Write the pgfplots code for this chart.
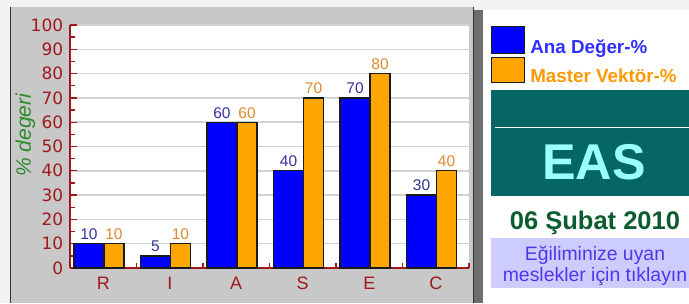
\documentclass[border=0pt]{standalone}
\usepackage{pgfplots}
\pgfplotsset{compat=1.18}
\usepackage{fontspec}
\setmainfont{Liberation Sans}
\newfontfamily\dejavu{DejaVu Sans}
\definecolor{bgtex}{HTML}{F2F2F2}
\definecolor{panelgray}{HTML}{C8C8C8}
\definecolor{shadowgray}{HTML}{6E6E6E}
\definecolor{tealA}{HTML}{066666}
\definecolor{eascyan}{HTML}{99FFFF}
\definecolor{dategreen}{HTML}{0B5D2F}
\definecolor{lav}{HTML}{CCCCFF}
\definecolor{linkpurple}{HTML}{5533EE}
\definecolor{axred}{HTML}{A0181C}
\definecolor{gridgray}{HTML}{D2D2D2}
\definecolor{barblue}{HTML}{0000FF}
\definecolor{barorange}{HTML}{FFA500}
\definecolor{barline}{HTML}{1A1A1A}
\definecolor{lblblue}{HTML}{34349C}
\definecolor{lblorange}{HTML}{DD8A2E}
\definecolor{legblue}{HTML}{3030FF}
\definecolor{legorange}{HTML}{FF9900}
\definecolor{labelgreen}{HTML}{2A8A2A}
\pgfplotsset{
  sqlegendA/.style={legend image code/.code={\path[fill=barblue] (0bp,-6.8bp) rectangle (33bp,20.2bp);}},
  sqlegendB/.style={legend image code/.code={\path[fill=barorange] (0bp,-5.8bp) rectangle (33bp,19.2bp);}},
}
\begin{document}
\begin{tikzpicture}[x=1bp,y=1bp]
\useasboundingbox (0,0) rectangle (689,303);
\fill[bgtex] (0,0) rectangle (689,303);
\fill[panelgray] (10,0) rectangle (474,296);
\draw[black!80, line width=1.3bp] (10.7,0) -- (10.7,296);
\fill[shadowgray] (474.3,0) rectangle (482.7,293);
\draw[black!80, line width=1.2bp] (473.6,0) -- (473.6,296);
\fill[white] (482.7,0) rectangle (689,293);
\fill[tealA] (491,107) rectangle (689,213);
\draw[white, line width=1.5bp] (495,175.5) -- (689,175.5);
\node[text=eascyan, font=\bfseries\fontsize{50.3bp}{55bp}\selectfont, anchor=base, inner sep=0pt] at (594,124) {EAS};
\node[text=dategreen, font=\bfseries\fontsize{25.5bp}{28bp}\selectfont, anchor=base, inner sep=0pt] at (595,74) {06 Şubat 2010};
\fill[lav] (491,15) rectangle (689,65);
\node[text=linkpurple, font=\fontsize{19.4bp}{22bp}\selectfont, anchor=base, inner sep=0pt] at (595,43) {Eğiliminize uyan};
\node[text=linkpurple, font=\fontsize{19.4bp}{22bp}\selectfont, anchor=base, inner sep=0pt] at (595,22) {meslekler için tıklayın};
\begin{axis}[
  at={(70bp,35bp)}, anchor=south west,
  scale only axis, width=399bp, height=243bp,
  xmin=-0.5, xmax=5.5, ymin=0, ymax=100,
  axis lines*=left,
  axis line style={-, draw=axred, line width=1.5bp},
  axis background/.style={fill=white},
  xtick={0,...,5}, xticklabels={R,I,A,S,E,C},
  minor xtick={0.5,1.5,...,5.5},
  ytick={0,10,...,100}, minor ytick={5,15,...,95},
  tick align=inside,
  major tick length=7bp, minor tick length=5bp,
  tick style={draw=axred, line width=1.3bp},
  major x tick style={draw=none},
  ymajorgrids, major grid style={draw=gridgray, line width=1.5bp},
  /pgf/number format/assume math mode=true,
  yticklabel style={font=\dejavu\fontsize{17bp}{20bp}\selectfont, text=axred, xshift=-3.3bp},
  xticklabel style={font=\fontsize{18bp}{20bp}\selectfont, text=axred, yshift=-5.5bp},
  ylabel={\% degeri},
  ylabel style={at={(axis description cs:-0.1115,0.547)}, anchor=center, font=\itshape\fontsize{21bp}{24bp}\selectfont, text=labelgreen},
  clip=false,
  legend style={at={(axis description cs:1.05514,0.99588)}, anchor=north west, draw=none, fill=none, inner sep=0pt, outer sep=0pt, row sep=2.3bp, font=\bfseries\fontsize{18.8bp}{22bp}\selectfont, nodes={inner sep=0pt}, /tikz/every odd column/.append style={column sep=5bp}},
  legend cell align=left,
]
\addplot[ybar, bar width=0.451, bar shift=-0.2143, fill=barblue, draw=barline, line width=1.3bp, sqlegendA,
  nodes near coords, every node near coord/.append style={text=lblblue, font=\fontsize{15.5bp}{18bp}\selectfont, xshift=-14.25bp}]
  coordinates {(0,10) (1,5) (2,60) (3,40) (4,70) (5,30)};
\addlegendentry{\textcolor{legblue}{Ana Değer-\%}}
\addplot[ybar, bar width=0.30, bar shift=0.1617, fill=barorange, draw=barline, line width=1.3bp, sqlegendB,
  nodes near coords, every node near coord/.append style={text=lblorange, font=\fontsize{15.5bp}{18bp}\selectfont, xshift=10.75bp}]
  coordinates {(0,10) (1,10) (2,60) (3,70) (4,80) (5,40)};
\addlegendentry{\textcolor{legorange}{Master Vektör-\%}}
\end{axis}
\end{tikzpicture}
\end{document}
